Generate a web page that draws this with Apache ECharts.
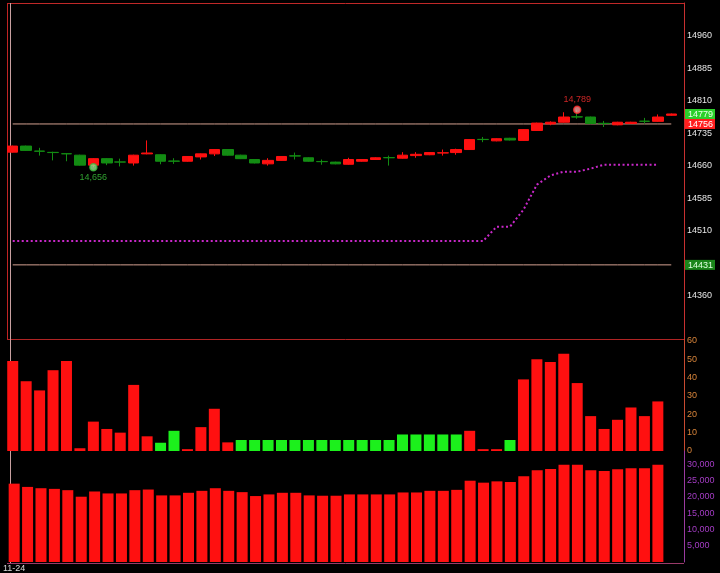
<!DOCTYPE html>
<html><head><meta charset="utf-8">
<script src="https://cdn.jsdelivr.net/npm/echarts@6/dist/echarts.min.js"></script>
<style>html,body{margin:0;padding:0;background:#000;}#c{width:720px;height:573px;}</style>
</head><body><div id="c"></div>
<script>
// ---------- data ----------
const categories = ['11-24','2','3','4','5','6','7','8','9','10','11','12','13','14','15','16','17','18','19','20',
  '21','22','23','24','25','26','27','28','29','30','31','32','33','34','35','36','37','38','39','40',
  '41','42','43','44','45','46','47','48','49','50'];
// [open, close, low, high]
const ohlc = [
  [14691,14705,14690,14706],[14705,14695,14694,14706],[14693.5,14693,14683,14701],[14690.5,14690,14672,14692],
  [14687.5,14687,14670,14689],[14684,14661,14660,14685],[14661,14676,14656,14677],[14676,14666,14661,14677],
  [14668.5,14668,14658,14676],[14666,14684,14660,14685],[14687,14689,14686,14718],[14685,14670,14663,14686],
  [14670.5,14670,14664,14677],[14670,14681,14669,14682],[14680,14687,14674,14688],[14687,14697,14682,14698],
  [14697,14684,14683,14698],[14684,14676,14675,14685],[14674,14666,14665,14675],[14664,14672,14660,14677],
  [14672,14681,14671,14682],[14682.5,14682,14674,14690],[14678,14670,14669,14679],[14669.5,14669,14662,14674],
  [14668,14664,14663,14669],[14663,14674,14662,14678],[14670,14674,14669,14675],[14674,14678,14673,14679],
  [14678.5,14678,14660,14683],[14677,14684,14676,14691],[14683,14686,14678,14691],[14685,14690,14684,14691],
  [14689,14689.5,14683,14697],[14690,14697,14685,14699],[14697,14720,14696,14721],[14720.5,14720,14714,14726],
  [14717,14722,14716,14723],[14723,14719,14718,14724],[14718,14743,14717,14744],[14741,14758,14740,14759],
  [14756,14760,14753,14762],[14760,14772,14759,14783],[14772.5,14772,14768,14789],[14772,14757,14756,14773],
  [14757.5,14757,14749,14763],[14754,14760,14753,14761],[14757,14760,14756,14761],[14762.5,14762,14757,14770],
  [14762,14772,14761,14778],[14776,14779,14775,14780]
];
const avgLine = [14486,14486,14486,14486,14486,14486,14486,14486,14486,14486,14486,14486,14486,14486,14486,14486,
  14486,14486,14486,14486,14486,14486,14486,14486,14486,14486,14486,14486,14486,14486,14486,14486,14486,14486,
  14486,14486,14519,14519,14558,14616,14637,14646,14646,14653,14662,14662,14662,14662,14662,null];
const highLevel = 14756;
const lowLevel = 14431;
const lastPrice = 14779;
const lowMark = [6, 14656];
const highMark = [42, 14789];
// signed indicator: negative values drawn green
const indicator = [49,38,33,44,49,1.5,16,12,10,36,8,-4.5,-11,1,13,23,4.7,
  -6,-6,-6,-6,-6,-6,-6,-6,-6,-6,-6,-6,-9,-9,-9,-9,-9,11,1,1,-6,
  39,50,48.5,53,37,19,12,17,23.7,19,27,null];
const volume = [24000,23000,22600,22400,22000,20000,21600,21000,21000,22000,22200,20400,20400,21200,21800,22600,
  21800,21400,20200,20700,21200,21200,20400,20300,20300,20700,20700,20700,20700,21300,21300,21800,21800,22100,
  24900,24300,24700,24500,26300,28100,28500,29800,29800,28100,27900,28400,28700,28700,29800,null];
const priceTicks = [14360,14510,14585,14660,14735,14810,14885,14960];
const indicatorTicks = [0,10,20,30,40,50,60];
const volumeTicks = [5000,10000,15000,20000,25000,30000];

// ---------- styles ----------
const UP = '#ff1010', DOWN = '#138c13', LIME = '#1cf01c';
const FONT = 'Liberation Sans';
const chart = echarts.init(document.getElementById('c'), null, {renderer:'canvas'});

const grids = [
  {left:6, width:672, top:3, height:336},
  {left:6, width:672, top:339, height:112},
  {left:6, width:672, top:451, height:112}
];
const xAxes = [0,1,2].map(i => ({
  type:'category', gridIndex:i, data:categories,
  axisLine:{show:false}, axisTick:{show:false}, splitLine:{show:false},
  axisLabel:{show:i===2, interval:(idx)=>idx===0, color:'#d8d8d8', fontSize:9, fontFamily:FONT, margin:2}
}));
const yAxes = [
  {type:'value', gridIndex:0, min:14260, max:15035, position:'right', offset:6,
   axisLine:{show:true, lineStyle:{color:'#c83030'}}, axisTick:{show:false}, splitLine:{show:false},
   axisLabel:{customValues:priceTicks, color:'#e6e6e6', fontSize:9, fontFamily:FONT, margin:3,
     formatter:(v)=>String(v)}},
  {type:'value', gridIndex:0, min:14260, max:15035, position:'right', offset:6,
   axisLine:{show:false}, axisTick:{show:false}, splitLine:{show:false},
   axisLabel:{customValues:[lastPrice, highLevel, lowLevel], margin:1, fontSize:9, fontFamily:FONT,
     formatter:(v)=> v===lastPrice ? '{g|'+v+'}' : (v===highLevel ? '{r|'+v+'}' : '{d|'+v+'}'),
     rich:{
       g:{backgroundColor:'#2ad02a', color:'#e8ffe8', padding:[1,2,0,3], lineHeight:9, fontSize:9, fontFamily:FONT},
       r:{backgroundColor:'#ff1e1e', color:'#ffffff', padding:[1,2,0,3], lineHeight:9, fontSize:9, fontFamily:FONT},
       d:{backgroundColor:'#1b861b', color:'#e0ffe0', padding:[1,2,0,3], lineHeight:9, fontSize:9, fontFamily:FONT}
     }}},
  {type:'value', gridIndex:1, min:0, max:61, position:'right', offset:6,
   axisLine:{show:true, lineStyle:{color:'#c84a30'}}, axisTick:{show:false}, splitLine:{show:false},
   axisLabel:{customValues:indicatorTicks, color:'#d8843a', fontSize:9, fontFamily:FONT, margin:3}},
  {type:'value', gridIndex:2, min:0, max:34000, position:'right', offset:6,
   axisLine:{show:true, lineStyle:{color:'#9a3aa0'}}, axisTick:{show:false}, splitLine:{show:false},
   axisLabel:{customValues:volumeTicks, color:'#a43cc4', fontSize:9, fontFamily:FONT, margin:3,
     formatter:(v)=>v.toLocaleString('en-US')}}
];

const series = [
  {type:'line', xAxisIndex:0, yAxisIndex:0, data:categories.map(()=>highLevel), symbol:'none',
   lineStyle:{color:'#d4a090', width:1}, z:1, silent:true},
  {type:'line', xAxisIndex:0, yAxisIndex:0, data:categories.map(()=>lowLevel), symbol:'none',
   lineStyle:{color:'#d4a090', width:1}, z:1, silent:true},
  {type:'line', xAxisIndex:0, yAxisIndex:0, data:avgLine, symbol:'none',
   lineStyle:{color:'#c828c8', width:2, type:[2,2.5]}, z:2},
  {type:'candlestick', xAxisIndex:0, yAxisIndex:0, data:ohlc, barWidth:11,
   itemStyle:{color:UP, color0:DOWN, borderColor:UP, borderColor0:DOWN, borderWidth:1}, z:3},
  {type:'scatter', xAxisIndex:0, yAxisIndex:0, data:[lowMark], symbolSize:7,
   itemStyle:{color:'#8ee88e', borderColor:'#3cbc3c', borderWidth:1.5},
   label:{show:true, position:'bottom', distance:1, color:'#3cc83c', fontSize:9, fontFamily:FONT,
     formatter:(p)=>p.value[1].toLocaleString('en-US')}, z:5},
  {type:'scatter', xAxisIndex:0, yAxisIndex:0, data:[highMark], symbolSize:7,
   itemStyle:{color:'#ff9a9a', borderColor:'#ff2a2a', borderWidth:1.5},
   label:{show:true, position:'top', distance:1, color:'#ff3030', fontSize:9, fontFamily:FONT,
     formatter:(p)=>p.value[1].toLocaleString('en-US')}, z:5},
  {type:'bar', xAxisIndex:1, yAxisIndex:2, barWidth:11,
   data:indicator.map(v => v==null ? null : {value:Math.abs(v), itemStyle:{color: v<0 ? LIME : UP}})},
  {type:'bar', xAxisIndex:2, yAxisIndex:3, barWidth:11, data:volume, itemStyle:{color:UP}}
];

const graphic = [
  {type:'line', shape:{x1:7, y1:3.5, x2:684, y2:3.5}, style:{stroke:'#c02828', lineWidth:1}},
  {type:'line', shape:{x1:7, y1:339.5, x2:684, y2:339.5}, style:{stroke:'#b02424', lineWidth:1}},
  {type:'line', shape:{x1:7, y1:563.5, x2:684, y2:563.5}, style:{stroke:'#9a3a6a', lineWidth:1}},
  {type:'line', shape:{x1:7.5, y1:3, x2:7.5, y2:339}, style:{stroke:'#c02424', lineWidth:1}},
  {type:'line', shape:{x1:10.5, y1:3, x2:10.5, y2:563}, style:{stroke:'#c8a0a0', lineWidth:1}}
];

chart.setOption({
  backgroundColor:'#000', animation:false,
  grid:grids, xAxis:xAxes, yAxis:yAxes, series:series, graphic:graphic
});
</script></body></html>
